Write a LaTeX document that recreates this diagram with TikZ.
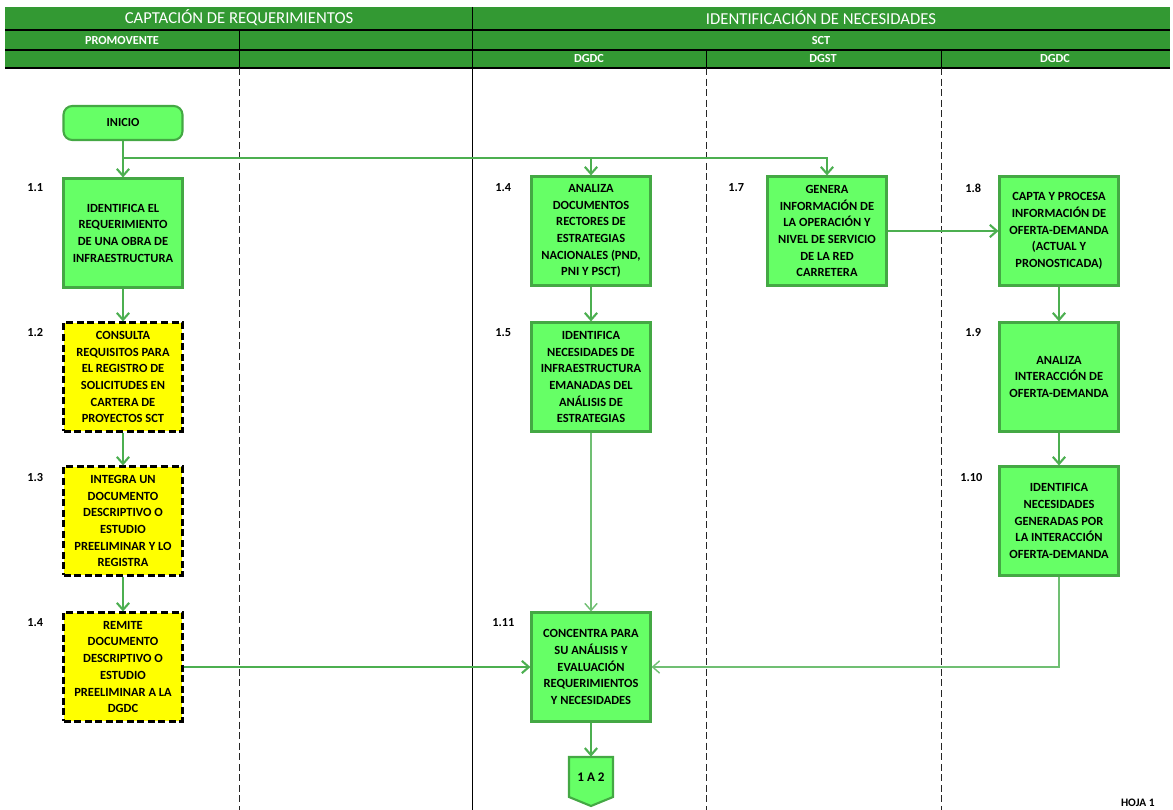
\documentclass[tikz,border=0pt]{standalone}
\usepackage{fontspec}
\setmainfont{Carlito}
\usetikzlibrary{positioning,arrows.meta}

\definecolor{encab}{HTML}{339933}
\definecolor{caja}{HTML}{66FF66}
\definecolor{bordecaja}{HTML}{44A844}
\definecolor{flecha}{HTML}{4CAF50}
\definecolor{amarillo}{HTML}{FFFF00}

\begin{document}
\begin{tikzpicture}[x=0.02cm, y=-0.02cm,
		proceso/.style={draw=bordecaja, fill=caja, line width=1.2pt, minimum width=2.38cm, minimum height=2.18cm, inner sep=1pt, align=center, font=\fontsize{7.1}{9.5}\selectfont\bfseries},
		externo/.style={proceso, draw=black, fill=amarillo, dash pattern=on 4pt off 2pt},
		paso/.style={anchor=west, inner sep=0pt, font=\fontsize{7}{8}\selectfont\bfseries},
		flujo/.style={draw=flecha, line width=1.2pt, -{Straight Barb[length=4pt, width=7pt]}},
		carril/.style={dash pattern=on 4pt off 2pt, thin, black!85},
		titulo/.style={text=white, font=\fontsize{9.5}{11}\selectfont},
		rol/.style={text=white, font=\fontsize{7}{8}\selectfont\bfseries}]

		\useasboundingbox (0,0) rectangle (1173,810);

		% encabezado
		\fill[encab] (5,7) rectangle (1170,68);
		\foreach \y in {30,50,68} {
			\draw[line width=1pt] (5,\y) -- (1170,\y);
		}
		\draw (472,7) -- (472,810);
		\draw (239,30) -- (239,68);
		\draw (706,50) -- (706,68);
		\draw (941,50) -- (941,68);
		\foreach \x in {239,706,941} {
			\draw[carril] (\x,68) -- (\x,810);
		}

		\node[titulo] (fase1) at (239,18) {CAPTACIÓN DE REQUERIMIENTOS};
		\node[titulo] (fase2) at (821,18) {IDENTIFICACIÓN DE NECESIDADES};
		\node[rol] (promovente) at (122,41) {PROMOVENTE};
		\node[rol] (sct) at (821,41) {SCT};
		\node[rol] (dgdca) at (589,59) {DGDC};
		\node[rol] (dgst) at (823,59) {DGST};
		\node[rol] (dgdcb) at (1055,59) {DGDC};

		% carril promovente
		\node[draw=bordecaja, fill=caja, line width=1.2pt, rounded corners=5pt, minimum width=2.38cm, minimum height=0.68cm, font=\fontsize{7}{8}\selectfont\bfseries] (inicio) at (123,123) {INICIO};
		\node[proceso] (p11) at (123,233) {IDENTIFICA EL\\REQUERIMIENTO\\DE UNA OBRA DE\\INFRAESTRUCTURA};
		\node[externo] (p12) at (123,377) {CONSULTA\\REQUISITOS PARA\\EL REGISTRO DE\\SOLICITUDES EN\\CARTERA DE\\PROYECTOS SCT};
		\node[externo] (p13) at (123,521) {INTEGRA UN\\DOCUMENTO\\DESCRIPTIVO O\\ESTUDIO\\PREELIMINAR Y LO\\REGISTRA};
		\node[externo] (p14) at (123,667) {REMITE\\DOCUMENTO\\DESCRIPTIVO O\\ESTUDIO\\PREELIMINAR A LA\\DGDC};

		% carril DGDC
		\node[proceso] (p14b) at (591,231) {ANALIZA\\DOCUMENTOS\\RECTORES DE\\ESTRATEGIAS\\NACIONALES (PND,\\PNI Y PSCT)};
		\node[proceso] (p15) at (591,377) {IDENTIFICA\\NECESIDADES DE\\INFRAESTRUCTURA\\EMANADAS DEL\\ANÁLISIS DE\\ESTRATEGIAS};
		\node[proceso] (p111) at (591,667) {CONCENTRA PARA\\SU ANÁLISIS Y\\EVALUACIÓN\\REQUERIMIENTOS\\Y NECESIDADES};

		% carril DGST
		\node[proceso] (p17) at (827,231) {GENERA\\INFORMACIÓN DE\\LA OPERACIÓN Y\\NIVEL DE SERVICIO\\DE LA RED\\CARRETERA};

		% carril DGDC
		\node[proceso] (p18) at (1059,231) {CAPTA Y PROCESA\\INFORMACIÓN DE\\OFERTA-DEMANDA\\(ACTUAL Y\\PRONOSTICADA)};
		\node[proceso] (p19) at (1059,377) {ANALIZA\\INTERACCIÓN DE\\OFERTA-DEMANDA};
		\node[proceso] (p110) at (1059,521) {IDENTIFICA\\NECESIDADES\\GENERADAS POR\\LA INTERACCIÓN\\OFERTA-DEMANDA};

		% numeros de paso
		\node[paso] (n11) at (27,188) {1.1};
		\node[paso] (n12) at (27,333) {1.2};
		\node[paso] (n13) at (27,478) {1.3};
		\node[paso] (n14) at (27,623) {1.4};
		\node[paso] (n14b) at (495,188) {1.4};
		\node[paso] (n15) at (495,333) {1.5};
		\node[paso] (n111) at (492,623) {1.11};
		\node[paso] (n17) at (728,188) {1.7};
		\node[paso] (n18) at (965,188) {1.8};
		\node[paso] (n19) at (965,333) {1.9};
		\node[paso] (n110) at (960,478) {1.10};

		% conector fuera de pagina
		\filldraw[draw=bordecaja, fill=caja, line width=1.2pt] (569,757) -- (613,757) -- (613,797) -- (591,806) -- (569,797) -- cycle;
		\node[inner sep=0pt, minimum width=0.88cm, minimum height=0.8cm, font=\fontsize{7.5}{8}\selectfont\bfseries] (salida) at (591,777) {1 A 2};

		\node[anchor=east, inner sep=0pt, font=\fontsize{6.5}{7}\selectfont\bfseries] (hoja) at (1155,803) {HOJA 1};

		% flujos
		\coordinate (ramal) at (123,158);
		\draw[flujo] (inicio) -- (p11);
		\draw[flujo] (ramal) -| (p14b);
		\draw[flujo] (ramal) -| (p17);
		\draw[flujo] (p11) -- (p12);
		\draw[flujo] (p12) -- (p13);
		\draw[flujo] (p13) -- (p14);
		\draw[flujo] (p14) -- (p111);
		\draw[flujo] (p14b) -- (p15);
		\draw[flujo, line width=0.8pt, draw=flecha!80] (p15) -- (p111);
		\draw[flujo] (p17) -- (p18);
		\draw[flujo] (p18) -- (p19);
		\draw[flujo] (p19) -- (p110);
		\draw[flujo, line width=0.8pt, draw=flecha!80] (p110) |- (p111);
		\draw[flujo] (p111) -- (salida);
\end{tikzpicture}
\end{document}
